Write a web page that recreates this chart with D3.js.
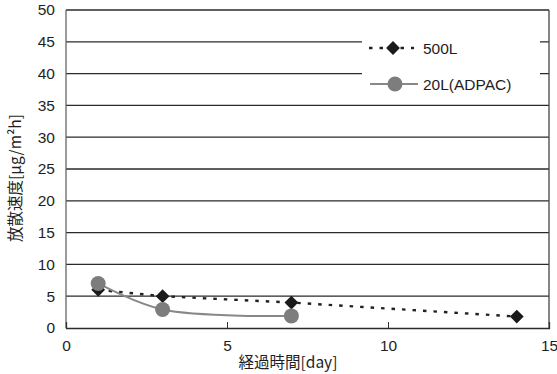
<!DOCTYPE html>
<html><head><meta charset="utf-8">
<script src="https://cdn.jsdelivr.net/npm/d3@7"></script>
<style>body{margin:0;background:#fff}svg{display:block}</style>
</head><body><svg width="557" height="374"></svg>
<script>
const xTicks = [0, 5, 10, 15];
const yTicks = [0, 5, 10, 15, 20, 25, 30, 35, 40, 45, 50];
const days500 = [1, 3, 7, 14];
const vals500 = [6, 5, 4, 1.8];
const days20 = [1, 3, 7];
const vals20 = [7, 2.9, 1.9];
const seriesNames = ["500L", "20L(ADPAC)"];
const xTitle = "経過時間[day]";
const yTitle = "放散速度[μg/m²h]";

const svg = d3.select("svg");
const font = "'Liberation Sans', Arial, sans-serif";
const cjk = "'Noto Sans CJK JP', sans-serif";
const L = 66, R = 549, T = 10, B = 328;
const x = d3.scaleLinear().domain([0, 15]).range([L, R]);
const y = d3.scaleLinear().domain([0, 50]).range([B, T]);

// gridlines
svg.append("g").selectAll("line").data(yTicks.filter(d => d > 0)).join("line")
  .attr("x1", L).attr("x2", R).attr("y1", d => y(d)).attr("y2", d => y(d))
  .attr("stroke", "#2a2a2a").attr("stroke-width", 1.3);
// border left/right
svg.append("line").attr("x1", L).attr("x2", L).attr("y1", T).attr("y2", B).attr("stroke", "#666").attr("stroke-width", 1.3);
svg.append("line").attr("x1", R).attr("x2", R).attr("y1", T).attr("y2", B).attr("stroke", "#444").attr("stroke-width", 1.3);

// y axis labels
const ya = svg.append("g").attr("transform", `translate(${L},0)`)
  .call(d3.axisLeft(y).tickValues(yTicks).tickSize(0).tickPadding(11));
ya.select(".domain").remove();
ya.selectAll("text").attr("font-family", font).attr("font-size", 15.5).attr("fill", "#1e1e1e");

// x axis
const xa = svg.append("g").attr("transform", `translate(0,${B})`)
  .call(d3.axisBottom(x).tickValues(xTicks).tickSize(-6).tickPadding(12));
xa.select(".domain").attr("stroke", "#2a2a2a").attr("stroke-width", 1.3);
xa.selectAll("line").attr("stroke", "#333");
xa.selectAll("text").attr("font-family", font).attr("font-size", 15.5).attr("fill", "#1e1e1e");

// titles
svg.append("text").attr("x", 288).attr("y", 368).attr("text-anchor", "middle")
  .attr("font-family", cjk).attr("font-size", 15.5).attr("fill", "#1e1e1e").text(xTitle);
svg.append("text").attr("transform", "translate(21,178) rotate(-90)").attr("text-anchor", "middle")
  .attr("font-family", cjk).attr("font-size", 15.5).attr("fill", "#1e1e1e").text(yTitle);

// legend background
svg.append("rect").attr("x", 362).attr("y", 30).attr("width", 178).attr("height", 68).attr("fill", "#fff");

const diamond = d3.symbol().type(d3.symbolSquare).size(95);

// 500L series
const d500 = days500.map((d, i) => [d, vals500[i]]);
svg.append("path").datum(d500)
  .attr("d", d3.line().x(d => x(d[0])).y(d => y(d[1])))
  .attr("fill", "none").attr("stroke", "#222").attr("stroke-width", 2.4).attr("stroke-dasharray", "3.5,7");

// 20L series
const d20 = days20.map((d, i) => [d, vals20[i]]);
svg.append("path").datum(d20)
  .attr("d", d3.line().curve(d3.curveCatmullRom).x(d => x(d[0])).y(d => y(d[1])))
  .attr("fill", "none").attr("stroke", "#888").attr("stroke-width", 2);

svg.append("g").selectAll("path").data(d500).join("path")
  .attr("transform", d => `translate(${x(d[0])},${y(d[1])}) rotate(45)`)
  .attr("d", diamond).attr("fill", "#1a1a1a");
svg.append("g").selectAll("circle").data(d20).join("circle")
  .attr("cx", d => x(d[0])).attr("cy", d => y(d[1])).attr("r", 7.5)
  .attr("fill", "#7d7d7d");

// legend entries
svg.append("line").attr("x1", 369).attr("x2", 414).attr("y1", 48).attr("y2", 48)
  .attr("stroke", "#222").attr("stroke-width", 2.4).attr("stroke-dasharray", "3.5,7");
svg.append("path").attr("transform", "translate(393,48) rotate(45)").attr("d", diamond).attr("fill", "#1a1a1a");
svg.append("text").attr("x", 423).attr("y", 53.5).attr("font-family", font).attr("font-size", 15.5).attr("fill", "#1e1e1e").text(seriesNames[0]);

svg.append("line").attr("x1", 370).attr("x2", 418).attr("y1", 84).attr("y2", 84)
  .attr("stroke", "#888").attr("stroke-width", 2);
svg.append("circle").attr("cx", 395).attr("cy", 84).attr("r", 7.5).attr("fill", "#7d7d7d");
svg.append("text").attr("x", 423).attr("y", 89.5).attr("font-family", font).attr("font-size", 15.5).attr("fill", "#1e1e1e").text(seriesNames[1]);
</script></body></html>
